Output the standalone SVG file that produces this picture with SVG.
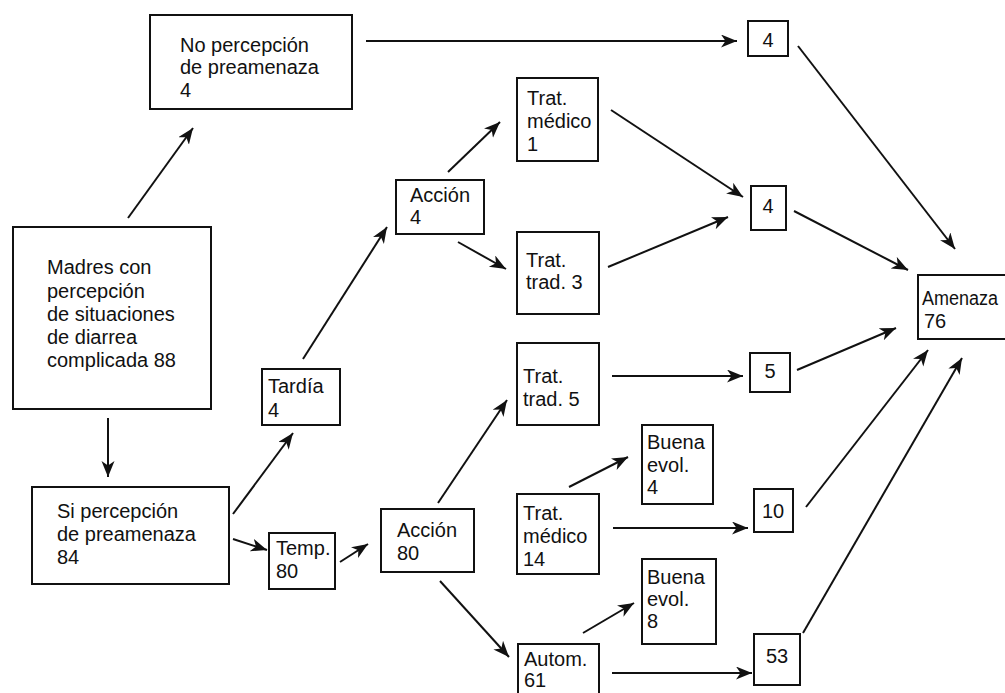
<svg xmlns="http://www.w3.org/2000/svg" width="1005" height="693" viewBox="0 0 1005 693">
<style>
.box{fill:#fff;stroke:#111;stroke-width:2}
.t{font-family:"Liberation Sans",Arial,sans-serif;font-size:20px;fill:#111}
.c{text-anchor:middle}
.ln{stroke:#111;stroke-width:2;fill:none;marker-end:url(#ah)}
</style>
<defs>
<marker id="ah" markerUnits="userSpaceOnUse" markerWidth="18" markerHeight="14" refX="16" refY="6.5" orient="auto">
<path d="M0,0 L16,6.5 L0,13 L4.5,6.5 Z" fill="#111"/>
</marker>
</defs>
<rect width="1005" height="693" fill="#fff"/>
<g id="connectors">
<line class="ln" x1="366" y1="41" x2="737" y2="41"/>
<line class="ln" x1="798" y1="46" x2="955" y2="249"/>
<line class="ln" x1="128" y1="218" x2="193" y2="128"/>
<line class="ln" x1="108" y1="418" x2="108" y2="477"/>
<line class="ln" x1="233" y1="514" x2="293" y2="433"/>
<line class="ln" x1="233" y1="539" x2="267" y2="550"/>
<line class="ln" x1="340" y1="562" x2="368" y2="544"/>
<line class="ln" x1="303" y1="359" x2="387" y2="227"/>
<line class="ln" x1="448" y1="172" x2="500" y2="122"/>
<line class="ln" x1="458" y1="242" x2="506" y2="269"/>
<line class="ln" x1="611" y1="110" x2="743" y2="197"/>
<line class="ln" x1="608" y1="267" x2="728" y2="217"/>
<line class="ln" x1="794" y1="211" x2="908" y2="270"/>
<line class="ln" x1="438" y1="503" x2="507" y2="400"/>
<line class="ln" x1="612" y1="376" x2="743" y2="376"/>
<line class="ln" x1="797" y1="370" x2="896" y2="328"/>
<line class="ln" x1="569" y1="487" x2="628" y2="457"/>
<line class="ln" x1="613" y1="528" x2="748" y2="528"/>
<line class="ln" x1="806" y1="507" x2="928" y2="350"/>
<line class="ln" x1="440" y1="581" x2="509" y2="657"/>
<line class="ln" x1="583" y1="633" x2="634" y2="603"/>
<line class="ln" x1="612" y1="673" x2="752" y2="673"/>
<line class="ln" x1="803" y1="633" x2="962" y2="358"/>
</g>
<g id="no-percepcion"><rect class="box" x="150" y="15" width="202" height="94"/>
<text class="t" x="180" y="52">No percepción</text><text class="t" x="180" y="74">de preamenaza</text><text class="t" x="180" y="97">4</text></g>
<g id="n4a"><rect class="box" x="748" y="21" width="40" height="35"/><text class="t c" x="768" y="47">4</text></g>
<g id="trat-medico-1"><rect class="box" x="517" y="78" width="81" height="83"/>
<text class="t" x="527" y="105">Trat.</text><text class="t" x="527" y="128">médico</text><text class="t" x="527" y="151">1</text></g>
<g id="accion-4"><rect class="box" x="396" y="180" width="88" height="54"/>
<text class="t" x="410" y="202">Acción</text><text class="t" x="410" y="224">4</text></g>
<g id="n4b"><rect class="box" x="751" y="186" width="35" height="44"/><text class="t c" x="768" y="213">4</text></g>
<g id="madres"><rect class="box" x="13" y="227" width="198" height="182"/>
<text class="t" x="47" y="274">Madres con</text><text class="t" x="47" y="298">percepción</text><text class="t" x="47" y="321">de situaciones</text><text class="t" x="47" y="344">de diarrea</text><text class="t" x="47" y="367">complicada 88</text></g>
<g id="trat-trad-3"><rect class="box" x="517" y="232" width="82" height="82"/>
<text class="t" x="526" y="267">Trat.</text><text class="t" x="526" y="289">trad. 3</text></g>
<g id="amenaza"><rect class="box" x="918" y="275" width="100" height="64"/>
<text class="t" x="922" y="305" textLength="76" lengthAdjust="spacingAndGlyphs">Amenaza</text><text class="t" x="924" y="328">76</text></g>
<g id="tardia"><rect class="box" x="262" y="369" width="78" height="56"/>
<text class="t" x="268" y="393">Tardía</text><text class="t" x="268" y="417">4</text></g>
<g id="trat-trad-5"><rect class="box" x="517" y="343" width="82" height="82"/>
<text class="t" x="523" y="383">Trat.</text><text class="t" x="523" y="406">trad. 5</text></g>
<g id="n5"><rect class="box" x="750" y="353" width="40" height="39"/><text class="t c" x="770" y="378">5</text></g>
<g id="buena-evol-4"><rect class="box" x="642" y="425" width="71" height="79"/>
<text class="t" x="647" y="449">Buena</text><text class="t" x="647" y="472">evol.</text><text class="t" x="647" y="494">4</text></g>
<g id="si-percepcion"><rect class="box" x="32" y="487" width="197" height="97"/>
<text class="t" x="57" y="518">Si percepción</text><text class="t" x="57" y="541">de preamenaza</text><text class="t" x="57" y="564">84</text></g>
<g id="n10"><rect class="box" x="754" y="489" width="39" height="43"/><text class="t c" x="773" y="518">10</text></g>
<g id="trat-medico-14"><rect class="box" x="517" y="494" width="82" height="80"/>
<text class="t" x="523" y="520">Trat.</text><text class="t" x="523" y="543">médico</text><text class="t" x="523" y="566">14</text></g>
<g id="accion-80"><rect class="box" x="381" y="509" width="93" height="63"/>
<text class="t" x="397" y="537">Acción</text><text class="t" x="397" y="560">80</text></g>
<g id="temp"><rect class="box" x="269" y="533" width="66" height="56"/>
<text class="t" x="276" y="555">Temp.</text><text class="t" x="276" y="578">80</text></g>
<g id="buena-evol-8"><rect class="box" x="642" y="559" width="74" height="85"/>
<text class="t" x="647" y="584">Buena</text><text class="t" x="647" y="606">evol.</text><text class="t" x="647" y="628">8</text></g>
<g id="n53"><rect class="box" x="754" y="634" width="46" height="51"/><text class="t c" x="777" y="663">53</text></g>
<g id="autom"><rect class="box" x="518" y="644" width="81" height="60"/>
<text class="t" x="524" y="666">Autom.</text><text class="t" x="524" y="687">61</text></g>
</svg>
